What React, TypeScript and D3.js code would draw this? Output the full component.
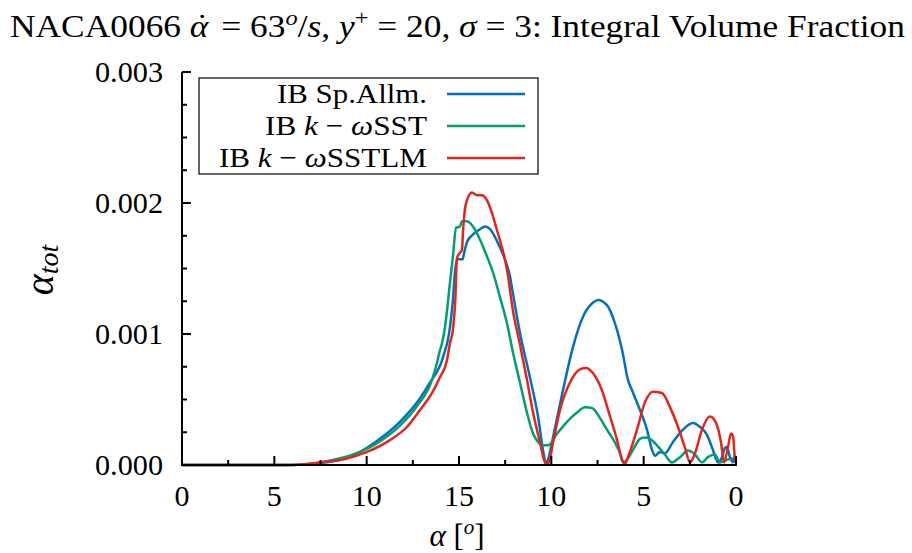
import React from "react";
import * as d3 from "d3";

// x is the travelled pitch angle (0..30): up-stroke 0->15, then back down 15->0
const xTickValues = [0, 5, 10, 15, 20, 25, 30];
const xTickLabels = ["0", "5", "10", "15", "10", "5", "0"];
const yTickValues = [0, 0.001, 0.002, 0.003];
const yTickLabels = ["0.000", "0.001", "0.002", "0.003"];

const seriesNames = ["IB Sp.Allm.", "IB k−ωSST", "IB k−ωSSTLM"];
const seriesColors = ["#0072bd", "#009e73", "#e6231c"];

const spallm: [number, number][] = [
  [0, 0], [5.85, 0], [7.47, 0.000015], [8.56, 0.00004], [9.64, 0.0001], [10.72, 0.0002],
  [11.8, 0.00033], [12.89, 0.00051], [13.43, 0.00063], [14.13, 0.00082], [14.51, 0.00105],
  [14.67, 0.00126], [14.78, 0.00147], [14.89, 0.00157], [15.2, 0.00157], [15.25, 0.0016],
  [15.43, 0.0017], [15.76, 0.00176], [16.14, 0.0018], [16.41, 0.00182], [16.68, 0.0018],
  [16.95, 0.00174], [17.22, 0.00166], [17.49, 0.00157], [17.76, 0.00144], [17.92, 0.00131],
  [18.3, 0.00101], [18.84, 0.00067], [19.28, 0.00037], [19.55, 0.000115], [19.71, 0.00001],
  [19.82, 0.00004], [20.09, 0.00021], [20.63, 0.00057], [21.17, 0.0009], [21.71, 0.00113],
  [22.26, 0.00124], [22.53, 0.00126], [23.01, 0.00122], [23.45, 0.00108], [23.83, 0.00088],
  [24.15, 0.00065], [24.37, 0.00057], [24.8, 0.00042], [25.18, 0.00027], [25.45, 0.000115],
  [25.61, 0.00007], [25.88, 0.0001], [26.15, 0.00009], [26.59, 0.000176], [27.13, 0.00027],
  [27.67, 0.00032], [28.05, 0.00029], [28.43, 0.00023], [28.75, 0.000115], [29.02, 0.00002],
  [29.24, 0.00006], [29.4, 0.00013], [29.51, 0.000137], [29.67, 0.00006], [29.84, 0.00002],
  [29.94, 0.00007], [30, 0.00002],
];

const kwsst: [number, number][] = [
  [0, 0], [5.85, 0], [7.47, 0.00002], [9.64, 0.0001], [10.72, 0.00018], [11.8, 0.0003],
  [12.73, 0.00045], [13.54, 0.00065], [13.81, 0.00078], [13.92, 0.00085], [14.08, 0.00093],
  [14.24, 0.00105], [14.51, 0.00139], [14.67, 0.00159], [14.84, 0.00181], [15.05, 0.00182],
  [15.16, 0.00186], [15.43, 0.00186], [15.76, 0.00182], [16.14, 0.00172], [16.52, 0.00159],
  [16.84, 0.00147], [17.22, 0.00128], [17.6, 0.00108], [17.92, 0.00086], [18.3, 0.00063],
  [18.68, 0.0004], [19.01, 0.00024], [19.28, 0.000176], [19.55, 0.00015], [19.82, 0.00015],
  [20.31, 0.00024], [20.85, 0.00033], [21.39, 0.0004], [21.82, 0.00044], [22.2, 0.000435],
  [22.63, 0.00036], [23.01, 0.00027], [23.45, 0.00017], [23.72, 0.00009], [23.88, 0.00002],
  [24.15, 0.00005], [24.42, 0.000115], [24.8, 0.0002], [25.07, 0.00021], [25.34, 0.0002],
  [25.72, 0.00015], [26.15, 0.00008], [26.53, 0.00002], [26.97, 0.00006], [27.4, 0.00011],
  [27.78, 0.00008], [28.16, 0.00002], [28.48, 0.00006], [28.86, 0.00008], [29.13, 0.00002],
  [29.51, 0.00004], [29.78, 0.00005], [30, 0.00002],
];

const kwsstlm: [number, number][] = [
  [0, 0], [5.85, 0], [7.47, 0.00002], [8.93, 0.00005], [10.02, 0.0001], [11.26, 0.00019],
  [12.18, 0.00029], [12.89, 0.00042], [13.54, 0.00055], [13.97, 0.00067], [14.35, 0.0008],
  [14.51, 0.00093], [14.67, 0.00103], [14.8, 0.00126], [14.89, 0.00158], [15.05, 0.00162],
  [15.16, 0.00164], [15.22, 0.00179], [15.32, 0.00195], [15.43, 0.00202], [15.7, 0.00208],
  [15.97, 0.00206], [16.24, 0.00206], [16.52, 0.00202], [16.79, 0.00192], [17.06, 0.00179],
  [17.33, 0.00166], [17.6, 0.00149], [17.92, 0.00118], [18.3, 0.00092], [18.68, 0.00065],
  [19.01, 0.0004], [19.39, 0.00017], [19.66, 0.00002], [19.77, 0.00001], [19.87, 0.00002],
  [20.09, 0.00017], [20.47, 0.00042], [21.01, 0.00063], [21.55, 0.00073], [21.88, 0.00074],
  [22.26, 0.0007], [22.74, 0.00057], [23.18, 0.00037], [23.56, 0.00019], [23.83, 0.00004],
  [23.99, 0.00001], [24.15, 0.00006], [24.64, 0.00027], [25.07, 0.00048], [25.5, 0.00056],
  [25.99, 0.00055], [26.43, 0.00044], [26.86, 0.00029], [27.24, 0.00013], [27.51, 0.00002],
  [27.78, 0.00009], [28.16, 0.00027], [28.59, 0.00037], [28.92, 0.00032], [29.19, 0.00017],
  [29.35, 0.00002], [29.57, 0.00014], [29.73, 0.00024], [29.84, 0.00022], [29.94, 0.00005],
  [30, 0.00002],
];

const allSeries = [spallm, kwsst, kwsstlm];

const W = 912;
const H = 553;
const FONT = "'Liberation Serif', 'DejaVu Serif', serif";

export default function App() {
  const x = d3.scaleLinear().domain([0, 30]).range([182, 736]);
  const y = d3.scaleLinear().domain([0, 0.003]).range([465, 72]);
  const line = d3
    .line<[number, number]>()
    .x((d) => x(d[0]))
    .y((d) => y(d[1]))
    .curve(d3.curveMonotoneX);

  const xMinor = d3.range(0, 30.01, 2.5).filter((v) => !xTickValues.includes(v));
  const yMinor = d3.range(0, 0.00301, 0.00025).filter(
    (v) => !yTickValues.some((t) => Math.abs(t - v) < 1e-9)
  );

  const legendRows = [94, 126, 158];
  const legendWidths = [150, 162, 208];

  return (
    <svg
      width={W}
      height={H}
      style={{ position: "absolute", left: 0, top: 0, background: "#fff" }}
      fontFamily={FONT}
    >
      <rect x={0} y={0} width={W} height={H} fill="#fff" />
      {/* title */}
      <text x={10} y={37} fontSize={32} fill="#000" textLength={895} lengthAdjust="spacingAndGlyphs">
        <tspan>NACA0066 </tspan>
        <tspan fontStyle="italic">α</tspan>
        <tspan dx={-11} dy={-1}>˙</tspan>
        <tspan dx={4} dy={1}> = 63</tspan>
        <tspan fontStyle="italic" fontSize={22} dy={-12}>o</tspan>
        <tspan dy={12}>/</tspan>
        <tspan fontStyle="italic">s</tspan>
        <tspan>,  </tspan>
        <tspan fontStyle="italic">y</tspan>
        <tspan fontSize={22} dy={-12}>+</tspan>
        <tspan dy={12}> = 20,  </tspan>
        <tspan fontStyle="italic">σ</tspan>
        <tspan> = 3: Integral Volume Fraction</tspan>
      </text>

      {/* curves */}
      {allSeries.map((s, i) => (
        <path
          key={i}
          d={line(s) || ""}
          fill="none"
          stroke={seriesColors[i]}
          strokeWidth={2.5}
          strokeLinejoin="round"
        />
      ))}

      {/* axes */}
      <line x1={182} y1={72} x2={182} y2={466} stroke="#000" strokeWidth={2} />
      <line x1={181} y1={465} x2={737} y2={465} stroke="#000" strokeWidth={2} />
      {yTickValues.map((v, i) => (
        <g key={"yt" + i}>
          <line x1={182} x2={191} y1={y(v)} y2={y(v)} stroke="#000" strokeWidth={2} />
          <text
            x={163}
            y={y(v) + 10}
            textAnchor="end"
            fontSize={29}
            textLength={68}
            lengthAdjust="spacingAndGlyphs"
          >
            {yTickLabels[i]}
          </text>
        </g>
      ))}
      {yMinor.map((v, i) => (
        <line key={"ym" + i} x1={182} x2={187} y1={y(v)} y2={y(v)} stroke="#000" strokeWidth={2} />
      ))}
      {xTickValues.map((v, i) => (
        <g key={"xt" + i}>
          <line x1={x(v)} x2={x(v)} y1={465} y2={456} stroke="#000" strokeWidth={2} />
          <text x={x(v)} y={506} textAnchor="middle" fontSize={30}>
            {xTickLabels[i]}
          </text>
        </g>
      ))}
      {xMinor.map((v, i) => (
        <line key={"xm" + i} x1={x(v)} x2={x(v)} y1={465} y2={460} stroke="#000" strokeWidth={2} />
      ))}

      {/* axis labels */}
      <text x={457} y={546} textAnchor="middle" fontSize={31}>
        <tspan fontStyle="italic">α</tspan>
        <tspan> [</tspan>
        <tspan fontStyle="italic" fontSize={21} dy={-12}>o</tspan>
        <tspan dy={12}>]</tspan>
      </text>
      <text transform="translate(53,270) rotate(-90)" textAnchor="middle" fontSize={40}>
        <tspan fontStyle="italic">α</tspan>
        <tspan fontStyle="italic" fontSize={28} dy={5}>tot</tspan>
      </text>

      {/* legend */}
      <rect x={199} y={78} width={339} height={96} fill="#fff" stroke="#000" strokeWidth={1.2} />
      {seriesNames.map((n, i) => (
        <g key={"lg" + i}>
          <text
            x={427}
            y={legendRows[i] + 9}
            textAnchor="end"
            fontSize={28}
            textLength={legendWidths[i]}
            lengthAdjust="spacingAndGlyphs"
          >
            {i === 0 ? (
              n
            ) : (
              <>
                <tspan>IB </tspan>
                <tspan fontStyle="italic">k</tspan>
                <tspan> − </tspan>
                <tspan fontStyle="italic">ω</tspan>
                <tspan>{i === 1 ? "SST" : "SSTLM"}</tspan>
              </>
            )}
          </text>
          <line
            x1={447}
            x2={525}
            y1={legendRows[i]}
            y2={legendRows[i]}
            stroke={seriesColors[i]}
            strokeWidth={2.5}
          />
        </g>
      ))}
    </svg>
  );
}
